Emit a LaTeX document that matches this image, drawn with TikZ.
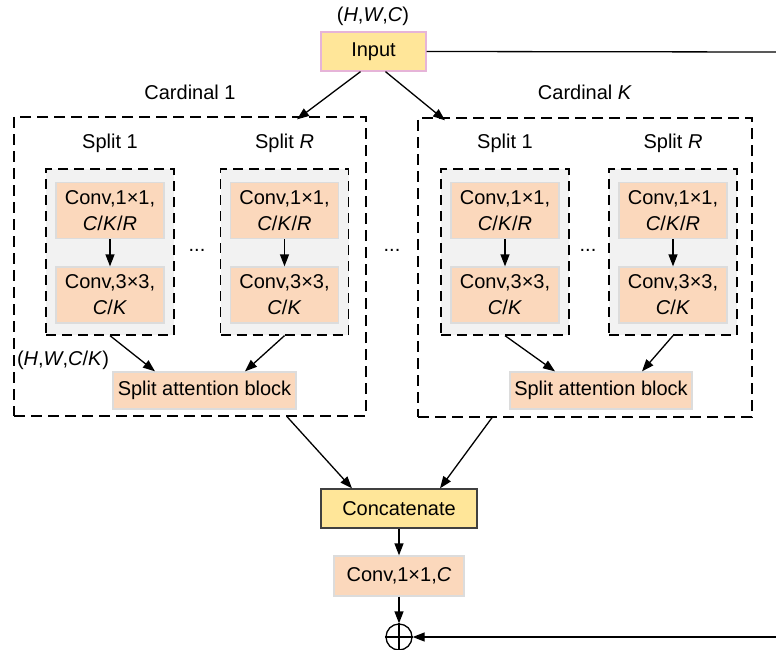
\documentclass[tikz,border=0pt]{standalone}
\usepackage{fontspec}
\setmainfont{Liberation Sans}
\usetikzlibrary{arrows.meta}
\definecolor{peach}{HTML}{FBD8BC}
\definecolor{lightedge}{HTML}{DCDCDC}
\definecolor{groupgray}{HTML}{F2F2F2}
\definecolor{sand}{HTML}{FFE699}
\definecolor{pinkedge}{HTML}{E6B4D8}
\begin{document}
\begin{tikzpicture}[x=1pt,y=-1pt,
	font=\fontsize{20}{26}\selectfont,
	line width=1.3pt,
	>={Triangle[length=12pt,width=9pt]},
	convbox/.style={fill=peach,draw=lightedge,minimum width=108pt,minimum height=56pt,align=center,inner sep=0pt},
	groupbox/.style={fill=groupgray,draw,dash pattern=on 10pt off 6pt,minimum width=128pt,minimum height=166pt,inner sep=0pt},
	cardbox/.style={draw,dash pattern=on 11pt off 6pt,minimum height=299pt,inner sep=0pt},
	sabox/.style={fill=peach,draw=lightedge,minimum width=183pt,minimum height=37pt,inner sep=0pt},
	lbl/.style={inner sep=0pt}]
		\useasboundingbox (0,0) rectangle (776,650);
		%%%
		\node[lbl] (shapein) at (373,16) {(\textit{H},\textit{W},\textit{C})};
		\node[fill=sand,draw=pinkedge,minimum width=105pt,minimum height=39pt,inner sep=0pt] (input) at (373.5,51.5) {Input};
		%%%
		\node[cardbox,minimum width=352pt] (card1) at (190,266.5) {};
		\node[cardbox,minimum width=334pt] (cardK) at (585,267.5) {};
		\node[lbl] (card1lbl) at (190,92) {Cardinal 1};
		\node[lbl] (cardKlbl) at (585,92) {Cardinal \textit{K}};
		%%%
		\node[lbl] (split11) at (110,143) {Split 1};
		\node[lbl] (split1R) at (284.5,143) {Split \textit{R}};
		\node[lbl] (splitK1) at (505,143) {Split 1};
		\node[lbl] (splitKR) at (673,143) {Split \textit{R}};
		%%%
		\node[groupbox] (g11) at (110,252) {};
		\node[groupbox] (g1R) at (284.5,252) {};
		\node[groupbox] (gK1) at (505,252) {};
		\node[groupbox] (gKR) at (673,252) {};
		%%%
		\node[convbox] (a11) at (110,210.5) {Conv,1×1,\\\textit{C}/\textit{K}/\textit{R}};
		\node[convbox] (b11) at (110,295) {Conv,3×3,\\\textit{C}/\textit{K}};
		\node[convbox] (a1R) at (284.5,210.5) {Conv,1×1,\\\textit{C}/\textit{K}/\textit{R}};
		\node[convbox] (b1R) at (284.5,295) {Conv,3×3,\\\textit{C}/\textit{K}};
		\node[convbox] (aK1) at (505,210.5) {Conv,1×1,\\\textit{C}/\textit{K}/\textit{R}};
		\node[convbox] (bK1) at (505,295) {Conv,3×3,\\\textit{C}/\textit{K}};
		\node[convbox] (aKR) at (673,210.5) {Conv,1×1,\\\textit{C}/\textit{K}/\textit{R}};
		\node[convbox] (bKR) at (673,295) {Conv,3×3,\\\textit{C}/\textit{K}};
		%%%
		\node[lbl] (dots1) at (197,250) {...};
		\node[lbl] (dotsmid) at (392,250) {...};
		\node[lbl] (dotsK) at (588,250) {...};
		\node[lbl] (shapesplit) at (63,360) {(\textit{H},\textit{W},\textit{C}/\textit{K})};
		%%%
		\node[sabox] (sab1) at (204.5,390.5) {Split attention block};
		\node[sabox,minimum width=182pt] (sabK) at (601,390.5) {Split attention block};
		%%%
		\node[fill=sand,draw=black!75,minimum width=156pt,minimum height=39pt,inner sep=0pt] (concat) at (399,508.5) {Concatenate};
		\node[fill=peach,draw=lightedge,minimum width=130pt,minimum height=40pt,inner sep=0pt] (convC) at (399,576) {Conv,1×1,\textit{C}};
		\node[draw,circle,minimum size=26pt,inner sep=0pt] (add) at (399,637) {};
		\draw (add.north) -- (add.south);
		\draw (add.west) -- (add.east);
		\coordinate (skiptop) at (776,52);
		\coordinate (skipbot) at (776,637);
		%%%
		\draw[->] ([xshift=-13pt]input.south) -- ([xshift=107pt,yshift=-3pt]card1.north);
		\draw[->] ([xshift=12pt]input.south) -- ([xshift=-140pt,yshift=-3pt]cardK.north);
		\draw (input.east) -- (skiptop);
		%%%
		\draw[->] (a11) -- (b11);
		\draw[->] (a1R) -- (b1R);
		\draw[->] (aK1) -- (bK1);
		\draw[->] (aKR) -- (bKR);
		%%%
		\draw[->] (g11.south) -- ([xshift=-49.5pt]sab1.north);
		\draw[->] (g1R.south) -- ([xshift=40.5pt]sab1.north);
		\draw[->] (gK1.south) -- ([xshift=-46pt]sabK.north);
		\draw[->] (gKR.south) -- ([xshift=41pt]sabK.north);
		%%%
		\draw[->] ([xshift=97pt]card1.south) -- ([xshift=-47pt]concat.north);
		\draw[->] ([xshift=-93pt]cardK.south) -- ([xshift=41pt]concat.north);
		\draw[->] (concat) -- (convC);
		\draw[->] (convC) -- (add);
		\draw[->] (skipbot) -- (add);
	\end{tikzpicture}
\end{document}
